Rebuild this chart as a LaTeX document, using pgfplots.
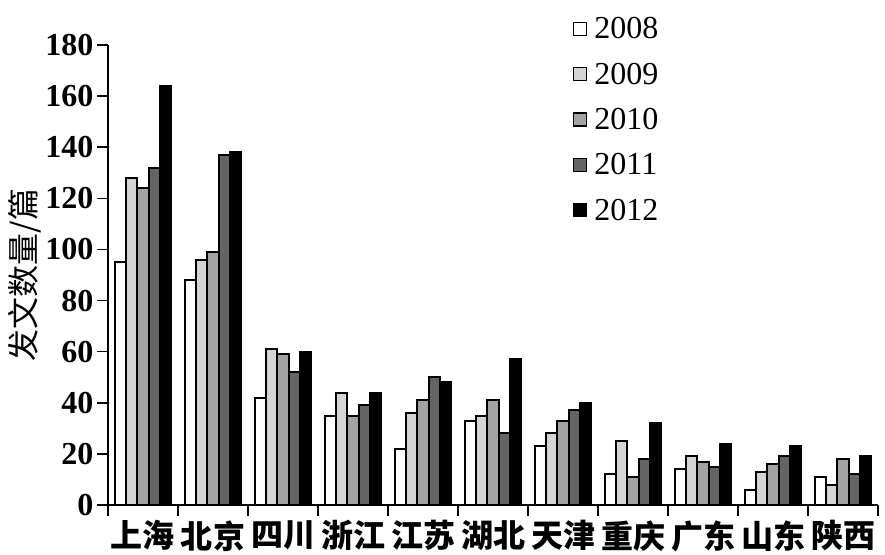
\documentclass[border=0pt]{standalone}
\usepackage{fontspec}
\setmainfont{Liberation Serif}
\newfontfamily\cjk{Noto Sans CJK SC}
\usepackage{pgfplots}
\pgfplotsset{compat=1.18}
\definecolor{gA}{RGB}{212,212,212}
\definecolor{gB}{RGB}{163,163,163}
\definecolor{gC}{RGB}{102,99,99}

\begin{document}
\begin{tikzpicture}
\begin{axis}[
    name=main,
    scale only axis,
    width=770pt, height=460pt,
    xmin=-0.5, xmax=10.5,
    ymin=0, ymax=180,
    axis x line*=bottom,
    axis y line*=left,
    axis line style={-, line width=1.8pt},
    tick align=outside,
    major tick length=11pt,
    tick style={line width=1.5pt, black},
    ytick={0,20,...,180},
    yticklabel style={font=\fontsize{32}{32}\selectfont\bfseries},
    /pgf/number format/assume math mode=true,
    xtick={-0.5,0.5,...,10.5},
    xticklabels={},
    extra x ticks={0,1,...,10},
    extra x tick labels={上海,北京,四川,浙江,江苏,湖北,天津,重庆,广东,山东,陕西},
    extra x tick style={major tick length=0pt,
        tick label style={font=\cjk\bfseries\fontsize{32}{32}\selectfont, yshift=-12pt}},
    ylabel={\cjk 发文数量/篇},
    ylabel style={font=\fontsize{32}{32}\selectfont, at={(axis description cs:-0.108,0.5)}, anchor=center},
    ybar=0pt,
    bar width=11.2pt,
    bst/.style={draw=black, line width=2pt},
    legend image code/.code={\draw[#1,line width=1.2pt] (0pt,-6.5pt) rectangle (13pt,6.5pt);},
    legend style={at={(axis description cs:0.604,1.06)}, anchor=north west,
        draw=none, fill=none, inner sep=0pt,
        font=\fontsize{32}{32}\selectfont,
        nodes={inner sep=0pt}, row sep=22.5pt, column sep=7pt},
    legend cell align=left,
]
\addplot[bst, fill=white] coordinates {(0,95)(1,88)(2,42)(3,35)(4,22)(5,33)(6,23)(7,12)(8,14)(9,6)(10,11)};
\addplot[bst, fill=gA] coordinates {(0,128)(1,96)(2,61)(3,44)(4,36)(5,35)(6,28)(7,25)(8,19)(9,13)(10,8)};
\addplot[bst, fill=gB] coordinates {(0,124)(1,99)(2,59)(3,35)(4,41)(5,41)(6,33)(7,11)(8,17)(9,16)(10,18)};
\addplot[bst, fill=gC] coordinates {(0,132)(1,137)(2,52)(3,39)(4,50)(5,28)(6,37)(7,18)(8,15)(9,19)(10,12)};
\addplot[bst, fill=black] coordinates {(0,164)(1,138)(2,60)(3,44)(4,48)(5,57)(6,40)(7,32)(8,24)(9,23)(10,19)};
\legend{2008,2009,2010,2011,2012}
\end{axis}
\pgfresetboundingbox
\path (main.south west) ++(-108pt,-49pt) rectangle ++(885pt,554pt);
\end{tikzpicture}
\end{document}
